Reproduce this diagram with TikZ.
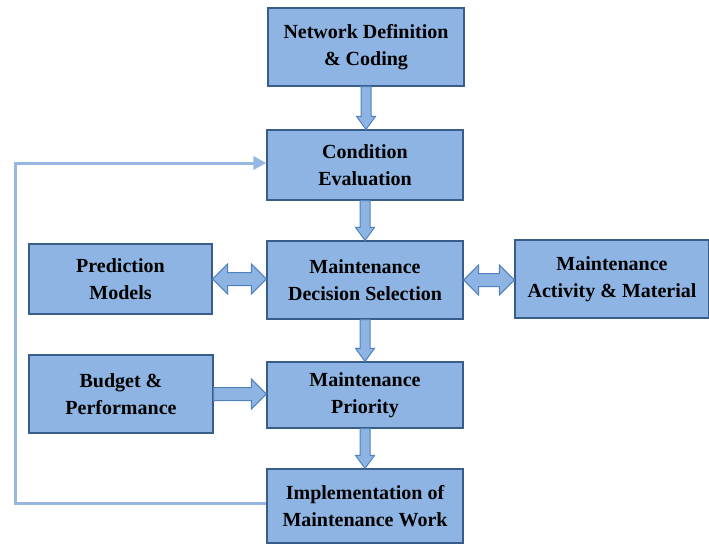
\documentclass[tikz,border=0pt]{standalone}
\usepackage{fontspec}
\setmainfont{Liberation Serif}
\usetikzlibrary{arrows.meta, calc}
\definecolor{boxfill}{RGB}{141,180,226}
\definecolor{boxline}{RGB}{56,93,138}
\definecolor{arrline}{RGB}{79,129,189}
\definecolor{loopblue}{RGB}{149,183,225}

% block arrows between two named boxes
\newcommand{\downblk}[2]{%
  \draw[blockarr] let \p1=(#1.south), \p2=(#2.north) in
    (\x1-5pt,\y1) -- (\x1-5pt,\y2+13pt) -- (\x1-9.5pt,\y2+13pt) -- (\x1,\y2)
    -- (\x1+9.5pt,\y2+13pt) -- (\x1+5pt,\y2+13pt) -- (\x1+5pt,\y1) -- cycle;}
\newcommand{\rightblk}[2]{%
  \draw[blockarr] let \p1=(#1.east), \p2=(#2.west) in
    (\x1,\y1+6.5pt) -- (\x2-15pt,\y1+6.5pt) -- (\x2-15pt,\y1+15pt) -- (\x2,\y1)
    -- (\x2-15pt,\y1-15pt) -- (\x2-15pt,\y1-6.5pt) -- (\x1,\y1-6.5pt) -- cycle;}
\newcommand{\bothblk}[2]{%
  \draw[blockarr] let \p1=(#1.east), \p2=(#2.west) in
    (\x1,\y1) -- (\x1+15pt,\y1+15pt) -- (\x1+15pt,\y1+6.5pt) -- (\x2-15pt,\y1+6.5pt)
    -- (\x2-15pt,\y1+15pt) -- (\x2,\y1) -- (\x2-15pt,\y1-15pt) -- (\x2-15pt,\y1-6.5pt)
    -- (\x1+15pt,\y1-6.5pt) -- (\x1+15pt,\y1-15pt) -- cycle;}

\begin{document}
\begin{tikzpicture}[
  x=1pt, y=-1pt,
  stagebox/.style={draw=boxline, fill=boxfill, line width=1.2pt, minimum width=#1,
    align=center, inner sep=2pt, font=\fontsize{20}{26.5}\selectfont\bfseries},
  blockarr/.style={draw=arrline, fill=boxfill, line width=1pt, line join=miter},
  loopline/.style={draw=loopblue, line width=3pt, -{Triangle[length=13pt, width=13pt]}},
]
  \useasboundingbox (0,0) rectangle (709,544);

  % main column
  \node[stagebox=196pt, minimum height=78pt] (net) at (366,47) {Network Definition\\\& Coding};
  \node[stagebox=196pt, minimum height=70pt] (cond) at (365,165) {Condition\\Evaluation};
  \node[stagebox=196pt, minimum height=78pt] (dec) at (365,280) {Maintenance\\Decision Selection};
  \node[stagebox=196pt, minimum height=66pt] (prio) at (365,395) {Maintenance\\Priority};
  \node[stagebox=196pt, minimum height=74pt] (impl) at (365,506) {Implementation of\\Maintenance Work};

  % side boxes
  \node[stagebox=183pt, minimum height=70pt] (pred) at (120.5,279) {Prediction\\Models};
  \node[stagebox=184pt, minimum height=78pt] (bud) at (121,394) {Budget \&\\Performance};
  \node[stagebox=194pt, minimum height=78pt] (act) at (612,279) {Maintenance\\Activity \& Material};

  % block arrows
  \downblk{net}{cond}
  \downblk{cond}{dec}
  \downblk{dec}{prio}
  \downblk{prio}{impl}
  \bothblk{pred}{dec}
  \bothblk{dec}{act}
  \rightblk{bud}{prio}

  % feedback loop
  \coordinate (lft) at (15,0);
  \coordinate (fbout) at ([yshift=3pt]impl.west);
  \coordinate (fbin) at ([yshift=2pt]cond.west);
  \draw[loopline] (fbout) -- (lft |- fbout) -- (lft |- fbin) -- (fbin);
\end{tikzpicture}
\end{document}
